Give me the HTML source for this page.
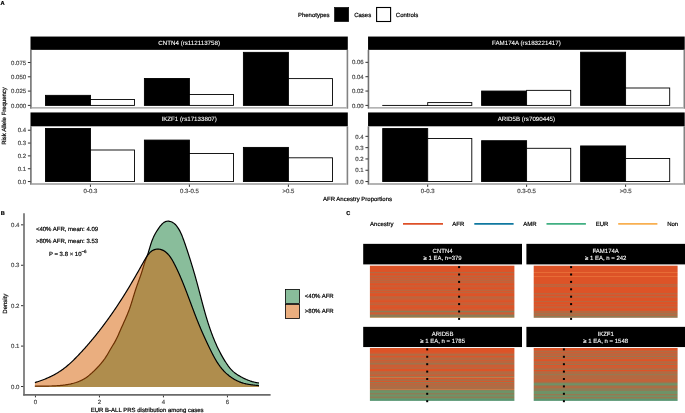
<!DOCTYPE html>
<html><head><meta charset="utf-8"><style>
html,body{margin:0;padding:0;background:#fff;}
svg{display:block;will-change:transform;}
text{font-family:"Liberation Sans",sans-serif;text-rendering:geometricPrecision;-webkit-font-smoothing:antialiased;}
</style></head><body>
<svg xmlns="http://www.w3.org/2000/svg" width="685" height="413" viewBox="0 0 685 413">
<defs><filter id="bl" x="0" y="0" width="685" height="413" filterUnits="userSpaceOnUse"></filter></defs>
<rect width="685" height="413" fill="#fff"/>
<g >
<text x="0.5" y="4.8" font-size="5.7" fill="#000" stroke="#000" stroke-width="0.2" text-anchor="start" font-weight="bold">A</text>
<text x="297.9" y="16.7" font-size="6" fill="#000" stroke="#000" stroke-width="0.2" text-anchor="start" >Phenotypes</text>
<rect x="334.5" y="7.4" width="14.2" height="14.2" fill="#000" stroke="#000" stroke-width="0.6"/>
<text x="354.2" y="16.7" font-size="6" fill="#000" stroke="#000" stroke-width="0.2" text-anchor="start" >Cases</text>
<rect x="376.6" y="7.5" width="14.0" height="14.0" fill="#fff" stroke="#000" stroke-width="1.1"/>
<text x="395.8" y="16.7" font-size="6" fill="#000" stroke="#000" stroke-width="0.2" text-anchor="start" >Controls</text>
<rect x="30.5" y="36.55" width="317.30" height="13.30" fill="#000"/>
<text x="189.14999999999998" y="45.1" font-size="6.2" fill="#fff" stroke="#fff" stroke-width="0.08" text-anchor="middle" >CNTN4 (rs112113758)</text>
<rect x="45.45" y="95.35" width="45.00" height="10.05" fill="#000" stroke="#000" stroke-width="0.9"/>
<rect x="90.45" y="99.5" width="44.10" height="5.90" fill="#fff" stroke="#000" stroke-width="0.9"/>
<rect x="144.40" y="78.45" width="45.00" height="26.95" fill="#000" stroke="#000" stroke-width="0.9"/>
<rect x="189.40" y="94.5" width="44.10" height="10.90" fill="#fff" stroke="#000" stroke-width="0.9"/>
<rect x="243.40" y="52.35" width="45.00" height="53.05" fill="#000" stroke="#000" stroke-width="0.9"/>
<rect x="288.40" y="78.6" width="44.10" height="26.80" fill="#fff" stroke="#000" stroke-width="0.9"/>
<line x1="30.9" x2="30.9" y1="49.85" y2="108.7" stroke="#727272" stroke-width="1.6"/>
<line x1="347.4" x2="347.4" y1="49.85" y2="108.7" stroke="#828282" stroke-width="1.6"/>
<line x1="31.7" x2="346.59999999999997" y1="107.9" y2="107.9" stroke="#9a9a9a" stroke-width="1.4"/>
<line x1="27.9" x2="30.599999999999998" y1="105.40" y2="105.40" stroke="#333" stroke-width="1"/>
<text x="26.099999999999998" y="107.55000000000001" font-size="6" fill="#4d4d4d" stroke="#4d4d4d" stroke-width="0.2" text-anchor="end" >0.000</text>
<line x1="27.9" x2="30.599999999999998" y1="91.10" y2="91.10" stroke="#333" stroke-width="1"/>
<text x="26.099999999999998" y="93.25000000000001" font-size="6" fill="#4d4d4d" stroke="#4d4d4d" stroke-width="0.2" text-anchor="end" >0.025</text>
<line x1="27.9" x2="30.599999999999998" y1="76.80" y2="76.80" stroke="#333" stroke-width="1"/>
<text x="26.099999999999998" y="78.95000000000002" font-size="6" fill="#4d4d4d" stroke="#4d4d4d" stroke-width="0.2" text-anchor="end" >0.050</text>
<line x1="27.9" x2="30.599999999999998" y1="62.50" y2="62.50" stroke="#333" stroke-width="1"/>
<text x="26.099999999999998" y="64.65" font-size="6" fill="#4d4d4d" stroke="#4d4d4d" stroke-width="0.2" text-anchor="end" >0.075</text>
<rect x="368.05" y="36.55" width="316.65" height="13.30" fill="#000"/>
<text x="526.375" y="45.1" font-size="6.2" fill="#fff" stroke="#fff" stroke-width="0.08" text-anchor="middle" >FAM174A (rs183221417)</text>
<rect x="382.70" y="105.4" width="45.00" height="0.01" fill="#000" stroke="#000" stroke-width="0.9"/>
<rect x="427.70" y="102.6" width="44.10" height="2.80" fill="#fff" stroke="#000" stroke-width="0.9"/>
<rect x="481.60" y="91.05" width="45.00" height="14.35" fill="#000" stroke="#000" stroke-width="0.9"/>
<rect x="526.60" y="90.36" width="44.10" height="15.04" fill="#fff" stroke="#000" stroke-width="0.9"/>
<rect x="580.60" y="52.2" width="45.00" height="53.20" fill="#000" stroke="#000" stroke-width="0.9"/>
<rect x="625.60" y="88.0" width="44.10" height="17.40" fill="#fff" stroke="#000" stroke-width="0.9"/>
<line x1="368.45" x2="368.45" y1="49.85" y2="108.7" stroke="#727272" stroke-width="1.6"/>
<line x1="684.3" x2="684.3" y1="49.85" y2="108.7" stroke="#828282" stroke-width="1.6"/>
<line x1="369.25" x2="683.5" y1="107.9" y2="107.9" stroke="#9a9a9a" stroke-width="1.4"/>
<line x1="365.45" x2="368.15" y1="105.40" y2="105.40" stroke="#333" stroke-width="1"/>
<text x="363.65" y="107.55000000000001" font-size="6" fill="#4d4d4d" stroke="#4d4d4d" stroke-width="0.2" text-anchor="end" >0.00</text>
<line x1="365.45" x2="368.15" y1="91.05" y2="91.05" stroke="#333" stroke-width="1"/>
<text x="363.65" y="93.19600000000001" font-size="6" fill="#4d4d4d" stroke="#4d4d4d" stroke-width="0.2" text-anchor="end" >0.02</text>
<line x1="365.45" x2="368.15" y1="76.69" y2="76.69" stroke="#333" stroke-width="1"/>
<text x="363.65" y="78.84200000000001" font-size="6" fill="#4d4d4d" stroke="#4d4d4d" stroke-width="0.2" text-anchor="end" >0.04</text>
<line x1="365.45" x2="368.15" y1="62.34" y2="62.34" stroke="#333" stroke-width="1"/>
<text x="363.65" y="64.48800000000001" font-size="6" fill="#4d4d4d" stroke="#4d4d4d" stroke-width="0.2" text-anchor="end" >0.06</text>
<rect x="30.5" y="112.45" width="317.30" height="13.85" fill="#000"/>
<text x="189.14999999999998" y="121.275" font-size="6.2" fill="#fff" stroke="#fff" stroke-width="0.08" text-anchor="middle" >IKZF1 (rs17133807)</text>
<rect x="45.45" y="128.45" width="45.00" height="53.10" fill="#000" stroke="#000" stroke-width="0.9"/>
<rect x="90.45" y="150.0" width="44.10" height="31.55" fill="#fff" stroke="#000" stroke-width="0.9"/>
<rect x="144.40" y="140.08" width="45.00" height="41.47" fill="#000" stroke="#000" stroke-width="0.9"/>
<rect x="189.40" y="153.5" width="44.10" height="28.05" fill="#fff" stroke="#000" stroke-width="0.9"/>
<rect x="243.40" y="147.41" width="45.00" height="34.14" fill="#000" stroke="#000" stroke-width="0.9"/>
<rect x="288.40" y="157.8" width="44.10" height="23.75" fill="#fff" stroke="#000" stroke-width="0.9"/>
<line x1="30.9" x2="30.9" y1="126.3" y2="184.75" stroke="#727272" stroke-width="1.6"/>
<line x1="347.4" x2="347.4" y1="126.3" y2="184.75" stroke="#828282" stroke-width="1.6"/>
<line x1="31.7" x2="346.59999999999997" y1="183.95" y2="183.95" stroke="#9a9a9a" stroke-width="1.4"/>
<line x1="27.9" x2="30.599999999999998" y1="181.55" y2="181.55" stroke="#333" stroke-width="1"/>
<text x="26.099999999999998" y="183.70000000000002" font-size="6" fill="#4d4d4d" stroke="#4d4d4d" stroke-width="0.2" text-anchor="end" >0.0</text>
<line x1="27.9" x2="30.599999999999998" y1="168.72" y2="168.72" stroke="#333" stroke-width="1"/>
<text x="26.099999999999998" y="170.87" font-size="6" fill="#4d4d4d" stroke="#4d4d4d" stroke-width="0.2" text-anchor="end" >0.1</text>
<line x1="27.9" x2="30.599999999999998" y1="155.89" y2="155.89" stroke="#333" stroke-width="1"/>
<text x="26.099999999999998" y="158.04000000000002" font-size="6" fill="#4d4d4d" stroke="#4d4d4d" stroke-width="0.2" text-anchor="end" >0.2</text>
<line x1="27.9" x2="30.599999999999998" y1="143.06" y2="143.06" stroke="#333" stroke-width="1"/>
<text x="26.099999999999998" y="145.21" font-size="6" fill="#4d4d4d" stroke="#4d4d4d" stroke-width="0.2" text-anchor="end" >0.3</text>
<line x1="27.9" x2="30.599999999999998" y1="130.23" y2="130.23" stroke="#333" stroke-width="1"/>
<text x="26.099999999999998" y="132.38000000000002" font-size="6" fill="#4d4d4d" stroke="#4d4d4d" stroke-width="0.2" text-anchor="end" >0.4</text>
<line x1="90.45" x2="90.45" y1="184.54999999999998" y2="186.85" stroke="#333" stroke-width="1"/>
<text x="90.45" y="193.2" font-size="6" fill="#4d4d4d" stroke="#4d4d4d" stroke-width="0.2" text-anchor="middle" >0-0.3</text>
<line x1="189.40" x2="189.40" y1="184.54999999999998" y2="186.85" stroke="#333" stroke-width="1"/>
<text x="189.4" y="193.2" font-size="6" fill="#4d4d4d" stroke="#4d4d4d" stroke-width="0.2" text-anchor="middle" >0.3-0.5</text>
<line x1="288.40" x2="288.40" y1="184.54999999999998" y2="186.85" stroke="#333" stroke-width="1"/>
<text x="288.4" y="193.2" font-size="6" fill="#4d4d4d" stroke="#4d4d4d" stroke-width="0.2" text-anchor="middle" >&gt;0.5</text>
<rect x="368.05" y="112.45" width="316.65" height="13.85" fill="#000"/>
<text x="526.375" y="121.275" font-size="6.2" fill="#fff" stroke="#fff" stroke-width="0.08" text-anchor="middle" >ARID5B (rs7090445)</text>
<rect x="382.70" y="128.55" width="45.00" height="53.00" fill="#000" stroke="#000" stroke-width="0.9"/>
<rect x="427.70" y="138.5" width="44.10" height="43.05" fill="#fff" stroke="#000" stroke-width="0.9"/>
<rect x="481.60" y="140.71" width="45.00" height="40.84" fill="#000" stroke="#000" stroke-width="0.9"/>
<rect x="526.60" y="148.3" width="44.10" height="33.25" fill="#fff" stroke="#000" stroke-width="0.9"/>
<rect x="580.60" y="145.95" width="45.00" height="35.60" fill="#000" stroke="#000" stroke-width="0.9"/>
<rect x="625.60" y="158.5" width="44.10" height="23.05" fill="#fff" stroke="#000" stroke-width="0.9"/>
<line x1="368.45" x2="368.45" y1="126.3" y2="184.75" stroke="#727272" stroke-width="1.6"/>
<line x1="684.3" x2="684.3" y1="126.3" y2="184.75" stroke="#828282" stroke-width="1.6"/>
<line x1="369.25" x2="683.5" y1="183.95" y2="183.95" stroke="#9a9a9a" stroke-width="1.4"/>
<line x1="365.45" x2="368.15" y1="181.55" y2="181.55" stroke="#333" stroke-width="1"/>
<text x="363.65" y="183.70000000000002" font-size="6" fill="#4d4d4d" stroke="#4d4d4d" stroke-width="0.2" text-anchor="end" >0.0</text>
<line x1="365.45" x2="368.15" y1="170.25" y2="170.25" stroke="#333" stroke-width="1"/>
<text x="363.65" y="172.4" font-size="6" fill="#4d4d4d" stroke="#4d4d4d" stroke-width="0.2" text-anchor="end" >0.1</text>
<line x1="365.45" x2="368.15" y1="158.95" y2="158.95" stroke="#333" stroke-width="1"/>
<text x="363.65" y="161.10000000000002" font-size="6" fill="#4d4d4d" stroke="#4d4d4d" stroke-width="0.2" text-anchor="end" >0.2</text>
<line x1="365.45" x2="368.15" y1="147.65" y2="147.65" stroke="#333" stroke-width="1"/>
<text x="363.65" y="149.8" font-size="6" fill="#4d4d4d" stroke="#4d4d4d" stroke-width="0.2" text-anchor="end" >0.3</text>
<line x1="365.45" x2="368.15" y1="136.35" y2="136.35" stroke="#333" stroke-width="1"/>
<text x="363.65" y="138.50000000000003" font-size="6" fill="#4d4d4d" stroke="#4d4d4d" stroke-width="0.2" text-anchor="end" >0.4</text>
<line x1="427.70" x2="427.70" y1="184.54999999999998" y2="186.85" stroke="#333" stroke-width="1"/>
<text x="427.7" y="193.2" font-size="6" fill="#4d4d4d" stroke="#4d4d4d" stroke-width="0.2" text-anchor="middle" >0-0.3</text>
<line x1="526.60" x2="526.60" y1="184.54999999999998" y2="186.85" stroke="#333" stroke-width="1"/>
<text x="526.6" y="193.2" font-size="6" fill="#4d4d4d" stroke="#4d4d4d" stroke-width="0.2" text-anchor="middle" >0.3-0.5</text>
<line x1="625.60" x2="625.60" y1="184.54999999999998" y2="186.85" stroke="#333" stroke-width="1"/>
<text x="625.6" y="193.2" font-size="6" fill="#4d4d4d" stroke="#4d4d4d" stroke-width="0.2" text-anchor="middle" >&gt;0.5</text>
<text x="357.5" y="201.4" font-size="6" fill="#000" stroke="#000" stroke-width="0.2" text-anchor="middle" >AFR Ancestry Proportions</text>
<text x="0" y="0" font-size="6" fill="#000" stroke="#000" stroke-width="0.2" text-anchor="middle" transform="translate(6.4,116.0) rotate(-90)">Risk Allele Frequency</text>
<text x="0.7" y="214.8" font-size="5.6" fill="#000" stroke="#000" stroke-width="0.2" text-anchor="start" font-weight="bold">B</text>
<path d="M34.90,386.20 L35.76,386.18 L36.62,386.17 L37.49,386.15 L38.35,386.14 L39.21,386.13 L40.07,386.12 L40.94,386.11 L41.80,386.11 L42.66,386.10 L43.52,386.09 L44.38,386.09 L45.24,386.08 L46.11,386.07 L46.97,386.06 L47.83,386.05 L48.69,386.04 L49.55,386.02 L50.40,386.00 L51.26,385.98 L52.12,385.96 L52.98,385.93 L53.84,385.90 L54.70,385.86 L55.55,385.82 L56.41,385.77 L57.27,385.72 L58.12,385.66 L58.98,385.60 L59.83,385.53 L60.69,385.45 L61.54,385.37 L62.40,385.28 L63.25,385.18 L64.11,385.07 L64.96,384.96 L65.81,384.83 L66.66,384.70 L67.52,384.55 L68.37,384.40 L69.22,384.24 L70.07,384.06 L70.92,383.88 L71.76,383.68 L72.61,383.47 L73.45,383.25 L74.28,383.02 L75.11,382.77 L75.94,382.51 L76.76,382.23 L77.57,381.94 L78.38,381.64 L79.18,381.32 L79.97,380.98 L80.76,380.63 L81.53,380.26 L82.30,379.88 L83.05,379.48 L83.80,379.06 L84.53,378.62 L85.25,378.16 L85.97,377.69 L86.67,377.20 L87.36,376.69 L88.05,376.18 L88.72,375.65 L89.39,375.11 L90.05,374.55 L90.70,373.99 L91.35,373.42 L91.99,372.84 L92.62,372.26 L93.25,371.67 L93.88,371.07 L94.50,370.47 L95.12,369.87 L95.73,369.26 L96.34,368.64 L96.94,368.02 L97.53,367.40 L98.12,366.77 L98.71,366.14 L99.28,365.50 L99.85,364.86 L100.42,364.21 L100.97,363.55 L101.52,362.89 L102.07,362.22 L102.60,361.55 L103.13,360.87 L103.64,360.19 L104.15,359.49 L104.65,358.80 L105.14,358.09 L105.63,357.38 L106.10,356.66 L106.56,355.94 L107.01,355.21 L107.45,354.47 L107.89,353.73 L108.32,352.98 L108.74,352.23 L109.16,351.47 L109.59,350.72 L110.02,349.98 L110.45,349.23 L110.90,348.49 L111.34,347.75 L111.79,347.01 L112.23,346.28 L112.68,345.54 L113.13,344.80 L113.57,344.07 L114.01,343.33 L114.45,342.59 L114.87,341.84 L115.29,341.09 L115.70,340.34 L116.10,339.58 L116.49,338.81 L116.87,338.04 L117.24,337.27 L117.60,336.49 L117.96,335.71 L118.31,334.92 L118.66,334.14 L119.00,333.35 L119.34,332.56 L119.68,331.77 L120.03,330.98 L120.37,330.19 L120.71,329.40 L121.06,328.61 L121.41,327.82 L121.77,327.04 L122.12,326.25 L122.47,325.47 L122.83,324.68 L123.18,323.90 L123.54,323.11 L123.90,322.33 L124.25,321.54 L124.60,320.76 L124.96,319.97 L125.30,319.18 L125.65,318.39 L126.00,317.61 L126.34,316.82 L126.68,316.03 L127.01,315.23 L127.34,314.44 L127.67,313.64 L127.99,312.85 L128.31,312.05 L128.62,311.25 L128.92,310.44 L129.22,309.64 L129.51,308.83 L129.80,308.02 L130.08,307.20 L130.36,306.39 L130.63,305.57 L130.90,304.75 L131.16,303.93 L131.42,303.11 L131.68,302.29 L131.94,301.47 L132.19,300.64 L132.44,299.82 L132.69,299.00 L132.94,298.17 L133.19,297.35 L133.45,296.52 L133.70,295.70 L133.95,294.87 L134.20,294.05 L134.46,293.23 L134.72,292.40 L134.98,291.58 L135.24,290.76 L135.51,289.94 L135.79,289.13 L136.06,288.31 L136.34,287.50 L136.62,286.68 L136.91,285.87 L137.20,285.06 L137.48,284.25 L137.78,283.44 L138.07,282.63 L138.36,281.82 L138.65,281.01 L138.94,280.20 L139.23,279.39 L139.52,278.58 L139.81,277.77 L140.10,276.96 L140.39,276.15 L140.67,275.33 L140.95,274.52 L141.22,273.71 L141.50,272.89 L141.76,272.07 L142.03,271.25 L142.29,270.43 L142.54,269.61 L142.79,268.79 L143.03,267.96 L143.28,267.14 L143.52,266.31 L143.77,265.49 L144.02,264.67 L144.28,263.85 L144.54,263.03 L144.81,262.21 L145.10,261.40 L145.39,260.59 L145.69,259.79 L145.99,258.99 L146.30,258.18 L146.60,257.38 L146.91,256.58 L147.20,255.77 L147.49,254.96 L147.77,254.15 L148.04,253.33 L148.31,252.51 L148.56,251.69 L148.81,250.87 L149.06,250.04 L149.31,249.22 L149.55,248.39 L149.80,247.57 L150.04,246.74 L150.29,245.92 L150.54,245.10 L150.80,244.28 L151.06,243.46 L151.33,242.65 L151.61,241.84 L151.90,241.03 L152.20,240.24 L152.52,239.44 L152.84,238.65 L153.18,237.87 L153.54,237.09 L153.90,236.32 L154.28,235.55 L154.67,234.79 L155.08,234.03 L155.49,233.28 L155.92,232.53 L156.37,231.79 L156.82,231.05 L157.29,230.31 L157.77,229.58 L158.26,228.86 L158.77,228.13 L159.29,227.41 L159.82,226.70 L160.37,225.99 L160.93,225.30 L161.51,224.63 L162.11,223.99 L162.73,223.40 L163.38,222.86 L164.05,222.38 L164.76,221.98 L165.50,221.65 L166.28,221.40 L167.08,221.25 L167.90,221.18 L168.73,221.19 L169.55,221.29 L170.37,221.46 L171.17,221.71 L171.94,222.03 L172.68,222.42 L173.39,222.87 L174.07,223.38 L174.73,223.94 L175.36,224.54 L175.97,225.19 L176.55,225.87 L177.10,226.58 L177.63,227.31 L178.14,228.06 L178.62,228.83 L179.08,229.60 L179.52,230.38 L179.93,231.15 L180.33,231.93 L180.70,232.70 L181.06,233.48 L181.41,234.26 L181.74,235.04 L182.06,235.81 L182.37,236.60 L182.67,237.38 L182.97,238.16 L183.26,238.95 L183.55,239.75 L183.84,240.54 L184.12,241.34 L184.40,242.14 L184.69,242.94 L184.97,243.75 L185.25,244.56 L185.53,245.37 L185.81,246.19 L186.09,247.00 L186.36,247.82 L186.64,248.64 L186.91,249.46 L187.19,250.29 L187.46,251.11 L187.73,251.94 L188.00,252.76 L188.27,253.59 L188.54,254.41 L188.80,255.24 L189.07,256.07 L189.33,256.89 L189.59,257.72 L189.86,258.54 L190.12,259.37 L190.38,260.19 L190.63,261.02 L190.89,261.84 L191.15,262.67 L191.40,263.49 L191.65,264.31 L191.91,265.14 L192.16,265.96 L192.41,266.78 L192.66,267.61 L192.90,268.43 L193.15,269.25 L193.39,270.08 L193.64,270.90 L193.88,271.72 L194.12,272.55 L194.36,273.37 L194.60,274.20 L194.84,275.02 L195.07,275.85 L195.31,276.67 L195.54,277.50 L195.77,278.33 L196.00,279.15 L196.23,279.98 L196.46,280.81 L196.69,281.64 L196.92,282.46 L197.14,283.29 L197.36,284.12 L197.59,284.95 L197.81,285.78 L198.03,286.62 L198.25,287.45 L198.47,288.28 L198.69,289.11 L198.91,289.94 L199.13,290.78 L199.35,291.61 L199.57,292.44 L199.79,293.27 L200.00,294.11 L200.22,294.94 L200.44,295.77 L200.66,296.61 L200.88,297.44 L201.09,298.27 L201.31,299.11 L201.53,299.94 L201.75,300.77 L201.97,301.61 L202.19,302.44 L202.42,303.27 L202.64,304.10 L202.86,304.94 L203.09,305.77 L203.31,306.60 L203.54,307.43 L203.77,308.26 L204.00,309.09 L204.23,309.92 L204.46,310.75 L204.69,311.58 L204.93,312.41 L205.16,313.24 L205.40,314.07 L205.64,314.90 L205.88,315.72 L206.12,316.55 L206.37,317.38 L206.62,318.20 L206.87,319.02 L207.12,319.85 L207.37,320.67 L207.63,321.49 L207.89,322.31 L208.15,323.13 L208.41,323.95 L208.68,324.77 L208.95,325.59 L209.22,326.41 L209.50,327.22 L209.77,328.04 L210.05,328.85 L210.34,329.66 L210.62,330.48 L210.91,331.29 L211.21,332.09 L211.50,332.90 L211.80,333.71 L212.10,334.51 L212.41,335.32 L212.72,336.12 L213.03,336.92 L213.35,337.72 L213.67,338.52 L213.99,339.32 L214.32,340.11 L214.65,340.90 L214.99,341.70 L215.33,342.49 L215.67,343.27 L216.02,344.06 L216.37,344.85 L216.72,345.63 L217.08,346.41 L217.45,347.19 L217.82,347.97 L218.19,348.75 L218.57,349.52 L218.95,350.29 L219.34,351.06 L219.73,351.83 L220.12,352.59 L220.52,353.36 L220.93,354.12 L221.34,354.88 L221.76,355.63 L222.18,356.38 L222.61,357.13 L223.04,357.88 L223.48,358.62 L223.92,359.36 L224.37,360.10 L224.83,360.83 L225.29,361.56 L225.76,362.28 L226.23,363.00 L226.71,363.72 L227.20,364.43 L227.69,365.13 L228.19,365.84 L228.70,366.53 L229.22,367.22 L229.75,367.89 L230.30,368.55 L230.86,369.20 L231.45,369.82 L232.05,370.43 L232.67,371.02 L233.31,371.60 L233.96,372.15 L234.63,372.69 L235.32,373.21 L236.02,373.72 L236.72,374.21 L237.44,374.69 L238.17,375.16 L238.90,375.62 L239.64,376.07 L240.39,376.51 L241.14,376.93 L241.90,377.34 L242.67,377.75 L243.44,378.13 L244.22,378.51 L245.00,378.87 L245.79,379.23 L246.58,379.57 L247.38,379.89 L248.19,380.20 L249.00,380.50 L249.81,380.79 L250.63,381.06 L251.45,381.32 L252.27,381.57 L253.10,381.80 L253.94,382.02 L254.77,382.22 L255.61,382.41 L256.45,382.58 L257.30,382.74 L258.14,382.88 L258.99,383.01 L258.99,386.90 L34.90,386.90 Z" fill="#137b37" fill-opacity="0.5" stroke="none"/>
<path d="M34.90,386.20 L35.76,386.18 L36.62,386.17 L37.49,386.15 L38.35,386.14 L39.21,386.13 L40.07,386.12 L40.94,386.11 L41.80,386.11 L42.66,386.10 L43.52,386.09 L44.38,386.09 L45.24,386.08 L46.11,386.07 L46.97,386.06 L47.83,386.05 L48.69,386.04 L49.55,386.02 L50.40,386.00 L51.26,385.98 L52.12,385.96 L52.98,385.93 L53.84,385.90 L54.70,385.86 L55.55,385.82 L56.41,385.77 L57.27,385.72 L58.12,385.66 L58.98,385.60 L59.83,385.53 L60.69,385.45 L61.54,385.37 L62.40,385.28 L63.25,385.18 L64.11,385.07 L64.96,384.96 L65.81,384.83 L66.66,384.70 L67.52,384.55 L68.37,384.40 L69.22,384.24 L70.07,384.06 L70.92,383.88 L71.76,383.68 L72.61,383.47 L73.45,383.25 L74.28,383.02 L75.11,382.77 L75.94,382.51 L76.76,382.23 L77.57,381.94 L78.38,381.64 L79.18,381.32 L79.97,380.98 L80.76,380.63 L81.53,380.26 L82.30,379.88 L83.05,379.48 L83.80,379.06 L84.53,378.62 L85.25,378.16 L85.97,377.69 L86.67,377.20 L87.36,376.69 L88.05,376.18 L88.72,375.65 L89.39,375.11 L90.05,374.55 L90.70,373.99 L91.35,373.42 L91.99,372.84 L92.62,372.26 L93.25,371.67 L93.88,371.07 L94.50,370.47 L95.12,369.87 L95.73,369.26 L96.34,368.64 L96.94,368.02 L97.53,367.40 L98.12,366.77 L98.71,366.14 L99.28,365.50 L99.85,364.86 L100.42,364.21 L100.97,363.55 L101.52,362.89 L102.07,362.22 L102.60,361.55 L103.13,360.87 L103.64,360.19 L104.15,359.49 L104.65,358.80 L105.14,358.09 L105.63,357.38 L106.10,356.66 L106.56,355.94 L107.01,355.21 L107.45,354.47 L107.89,353.73 L108.32,352.98 L108.74,352.23 L109.16,351.47 L109.59,350.72 L110.02,349.98 L110.45,349.23 L110.90,348.49 L111.34,347.75 L111.79,347.01 L112.23,346.28 L112.68,345.54 L113.13,344.80 L113.57,344.07 L114.01,343.33 L114.45,342.59 L114.87,341.84 L115.29,341.09 L115.70,340.34 L116.10,339.58 L116.49,338.81 L116.87,338.04 L117.24,337.27 L117.60,336.49 L117.96,335.71 L118.31,334.92 L118.66,334.14 L119.00,333.35 L119.34,332.56 L119.68,331.77 L120.03,330.98 L120.37,330.19 L120.71,329.40 L121.06,328.61 L121.41,327.82 L121.77,327.04 L122.12,326.25 L122.47,325.47 L122.83,324.68 L123.18,323.90 L123.54,323.11 L123.90,322.33 L124.25,321.54 L124.60,320.76 L124.96,319.97 L125.30,319.18 L125.65,318.39 L126.00,317.61 L126.34,316.82 L126.68,316.03 L127.01,315.23 L127.34,314.44 L127.67,313.64 L127.99,312.85 L128.31,312.05 L128.62,311.25 L128.92,310.44 L129.22,309.64 L129.51,308.83 L129.80,308.02 L130.08,307.20 L130.36,306.39 L130.63,305.57 L130.90,304.75 L131.16,303.93 L131.42,303.11 L131.68,302.29 L131.94,301.47 L132.19,300.64 L132.44,299.82 L132.69,299.00 L132.94,298.17 L133.19,297.35 L133.45,296.52 L133.70,295.70 L133.95,294.87 L134.20,294.05 L134.46,293.23 L134.72,292.40 L134.98,291.58 L135.24,290.76 L135.51,289.94 L135.79,289.13 L136.06,288.31 L136.34,287.50 L136.62,286.68 L136.91,285.87 L137.20,285.06 L137.48,284.25 L137.78,283.44 L138.07,282.63 L138.36,281.82 L138.65,281.01 L138.94,280.20 L139.23,279.39 L139.52,278.58 L139.81,277.77 L140.10,276.96 L140.39,276.15 L140.67,275.33 L140.95,274.52 L141.22,273.71 L141.50,272.89 L141.76,272.07 L142.03,271.25 L142.29,270.43 L142.54,269.61 L142.79,268.79 L143.03,267.96 L143.28,267.14 L143.52,266.31 L143.77,265.49 L144.02,264.67 L144.28,263.85 L144.54,263.03 L144.81,262.21 L145.10,261.40 L145.39,260.59 L145.69,259.79 L145.99,258.99 L146.30,258.18 L146.60,257.38 L146.91,256.58 L147.20,255.77 L147.49,254.96 L147.77,254.15 L148.04,253.33 L148.31,252.51 L148.56,251.69 L148.81,250.87 L149.06,250.04 L149.31,249.22 L149.55,248.39 L149.80,247.57 L150.04,246.74 L150.29,245.92 L150.54,245.10 L150.80,244.28 L151.06,243.46 L151.33,242.65 L151.61,241.84 L151.90,241.03 L152.20,240.24 L152.52,239.44 L152.84,238.65 L153.18,237.87 L153.54,237.09 L153.90,236.32 L154.28,235.55 L154.67,234.79 L155.08,234.03 L155.49,233.28 L155.92,232.53 L156.37,231.79 L156.82,231.05 L157.29,230.31 L157.77,229.58 L158.26,228.86 L158.77,228.13 L159.29,227.41 L159.82,226.70 L160.37,225.99 L160.93,225.30 L161.51,224.63 L162.11,223.99 L162.73,223.40 L163.38,222.86 L164.05,222.38 L164.76,221.98 L165.50,221.65 L166.28,221.40 L167.08,221.25 L167.90,221.18 L168.73,221.19 L169.55,221.29 L170.37,221.46 L171.17,221.71 L171.94,222.03 L172.68,222.42 L173.39,222.87 L174.07,223.38 L174.73,223.94 L175.36,224.54 L175.97,225.19 L176.55,225.87 L177.10,226.58 L177.63,227.31 L178.14,228.06 L178.62,228.83 L179.08,229.60 L179.52,230.38 L179.93,231.15 L180.33,231.93 L180.70,232.70 L181.06,233.48 L181.41,234.26 L181.74,235.04 L182.06,235.81 L182.37,236.60 L182.67,237.38 L182.97,238.16 L183.26,238.95 L183.55,239.75 L183.84,240.54 L184.12,241.34 L184.40,242.14 L184.69,242.94 L184.97,243.75 L185.25,244.56 L185.53,245.37 L185.81,246.19 L186.09,247.00 L186.36,247.82 L186.64,248.64 L186.91,249.46 L187.19,250.29 L187.46,251.11 L187.73,251.94 L188.00,252.76 L188.27,253.59 L188.54,254.41 L188.80,255.24 L189.07,256.07 L189.33,256.89 L189.59,257.72 L189.86,258.54 L190.12,259.37 L190.38,260.19 L190.63,261.02 L190.89,261.84 L191.15,262.67 L191.40,263.49 L191.65,264.31 L191.91,265.14 L192.16,265.96 L192.41,266.78 L192.66,267.61 L192.90,268.43 L193.15,269.25 L193.39,270.08 L193.64,270.90 L193.88,271.72 L194.12,272.55 L194.36,273.37 L194.60,274.20 L194.84,275.02 L195.07,275.85 L195.31,276.67 L195.54,277.50 L195.77,278.33 L196.00,279.15 L196.23,279.98 L196.46,280.81 L196.69,281.64 L196.92,282.46 L197.14,283.29 L197.36,284.12 L197.59,284.95 L197.81,285.78 L198.03,286.62 L198.25,287.45 L198.47,288.28 L198.69,289.11 L198.91,289.94 L199.13,290.78 L199.35,291.61 L199.57,292.44 L199.79,293.27 L200.00,294.11 L200.22,294.94 L200.44,295.77 L200.66,296.61 L200.88,297.44 L201.09,298.27 L201.31,299.11 L201.53,299.94 L201.75,300.77 L201.97,301.61 L202.19,302.44 L202.42,303.27 L202.64,304.10 L202.86,304.94 L203.09,305.77 L203.31,306.60 L203.54,307.43 L203.77,308.26 L204.00,309.09 L204.23,309.92 L204.46,310.75 L204.69,311.58 L204.93,312.41 L205.16,313.24 L205.40,314.07 L205.64,314.90 L205.88,315.72 L206.12,316.55 L206.37,317.38 L206.62,318.20 L206.87,319.02 L207.12,319.85 L207.37,320.67 L207.63,321.49 L207.89,322.31 L208.15,323.13 L208.41,323.95 L208.68,324.77 L208.95,325.59 L209.22,326.41 L209.50,327.22 L209.77,328.04 L210.05,328.85 L210.34,329.66 L210.62,330.48 L210.91,331.29 L211.21,332.09 L211.50,332.90 L211.80,333.71 L212.10,334.51 L212.41,335.32 L212.72,336.12 L213.03,336.92 L213.35,337.72 L213.67,338.52 L213.99,339.32 L214.32,340.11 L214.65,340.90 L214.99,341.70 L215.33,342.49 L215.67,343.27 L216.02,344.06 L216.37,344.85 L216.72,345.63 L217.08,346.41 L217.45,347.19 L217.82,347.97 L218.19,348.75 L218.57,349.52 L218.95,350.29 L219.34,351.06 L219.73,351.83 L220.12,352.59 L220.52,353.36 L220.93,354.12 L221.34,354.88 L221.76,355.63 L222.18,356.38 L222.61,357.13 L223.04,357.88 L223.48,358.62 L223.92,359.36 L224.37,360.10 L224.83,360.83 L225.29,361.56 L225.76,362.28 L226.23,363.00 L226.71,363.72 L227.20,364.43 L227.69,365.13 L228.19,365.84 L228.70,366.53 L229.22,367.22 L229.75,367.89 L230.30,368.55 L230.86,369.20 L231.45,369.82 L232.05,370.43 L232.67,371.02 L233.31,371.60 L233.96,372.15 L234.63,372.69 L235.32,373.21 L236.02,373.72 L236.72,374.21 L237.44,374.69 L238.17,375.16 L238.90,375.62 L239.64,376.07 L240.39,376.51 L241.14,376.93 L241.90,377.34 L242.67,377.75 L243.44,378.13 L244.22,378.51 L245.00,378.87 L245.79,379.23 L246.58,379.57 L247.38,379.89 L248.19,380.20 L249.00,380.50 L249.81,380.79 L250.63,381.06 L251.45,381.32 L252.27,381.57 L253.10,381.80 L253.94,382.02 L254.77,382.22 L255.61,382.41 L256.45,382.58 L257.30,382.74 L258.14,382.88 L258.99,383.01" fill="none" stroke="#000" stroke-width="1.2"/>
<path d="M34.91,382.59 L35.61,382.38 L36.31,382.16 L37.01,381.94 L37.70,381.72 L38.40,381.49 L39.10,381.25 L39.79,381.02 L40.49,380.77 L41.18,380.52 L41.87,380.27 L42.56,380.01 L43.25,379.75 L43.94,379.48 L44.62,379.21 L45.30,378.93 L45.98,378.65 L46.66,378.36 L47.34,378.07 L48.01,377.77 L48.69,377.46 L49.36,377.16 L50.02,376.84 L50.69,376.52 L51.35,376.20 L52.01,375.87 L52.67,375.53 L53.32,375.19 L53.97,374.85 L54.62,374.49 L55.26,374.14 L55.90,373.77 L56.54,373.41 L57.17,373.03 L57.80,372.65 L58.43,372.27 L59.05,371.87 L59.67,371.48 L60.28,371.07 L60.89,370.66 L61.50,370.25 L62.10,369.83 L62.70,369.40 L63.29,368.97 L63.88,368.53 L64.47,368.08 L65.05,367.63 L65.62,367.18 L66.19,366.72 L66.76,366.25 L67.32,365.78 L67.88,365.30 L68.44,364.82 L68.99,364.34 L69.54,363.85 L70.09,363.36 L70.63,362.86 L71.17,362.36 L71.71,361.85 L72.25,361.35 L72.78,360.84 L73.31,360.32 L73.83,359.81 L74.36,359.29 L74.88,358.77 L75.40,358.24 L75.92,357.72 L76.43,357.19 L76.95,356.66 L77.46,356.13 L77.97,355.60 L78.48,355.07 L78.99,354.53 L79.49,354.00 L80.00,353.46 L80.50,352.92 L81.00,352.38 L81.50,351.84 L82.00,351.30 L82.50,350.76 L82.99,350.21 L83.49,349.67 L83.98,349.12 L84.47,348.57 L84.96,348.03 L85.45,347.48 L85.94,346.92 L86.43,346.37 L86.91,345.82 L87.39,345.27 L87.88,344.71 L88.36,344.15 L88.84,343.60 L89.32,343.04 L89.79,342.48 L90.27,341.92 L90.74,341.36 L91.22,340.80 L91.69,340.23 L92.16,339.67 L92.63,339.10 L93.10,338.53 L93.57,337.97 L94.03,337.40 L94.50,336.83 L94.96,336.26 L95.42,335.68 L95.89,335.11 L96.35,334.54 L96.81,333.96 L97.26,333.39 L97.72,332.81 L98.18,332.23 L98.63,331.65 L99.09,331.08 L99.54,330.49 L99.99,329.91 L100.44,329.33 L100.89,328.75 L101.34,328.16 L101.78,327.58 L102.23,326.99 L102.67,326.41 L103.12,325.82 L103.56,325.23 L104.00,324.64 L104.44,324.05 L104.88,323.46 L105.32,322.87 L105.76,322.27 L106.19,321.68 L106.63,321.09 L107.06,320.49 L107.49,319.89 L107.93,319.30 L108.36,318.70 L108.78,318.10 L109.21,317.50 L109.64,316.90 L110.07,316.30 L110.49,315.70 L110.92,315.10 L111.34,314.50 L111.76,313.89 L112.18,313.29 L112.60,312.68 L113.02,312.08 L113.44,311.47 L113.85,310.86 L114.27,310.25 L114.68,309.65 L115.10,309.04 L115.51,308.43 L115.92,307.82 L116.33,307.21 L116.74,306.59 L117.15,305.98 L117.56,305.37 L117.96,304.75 L118.37,304.14 L118.77,303.52 L119.18,302.91 L119.58,302.29 L119.98,301.68 L120.38,301.06 L120.78,300.44 L121.18,299.82 L121.57,299.20 L121.97,298.58 L122.37,297.96 L122.76,297.34 L123.15,296.72 L123.55,296.10 L123.94,295.48 L124.33,294.85 L124.72,294.23 L125.11,293.61 L125.49,292.98 L125.88,292.36 L126.26,291.73 L126.65,291.11 L127.03,290.48 L127.41,289.85 L127.80,289.23 L128.18,288.60 L128.56,287.97 L128.94,287.34 L129.31,286.71 L129.69,286.08 L130.07,285.45 L130.44,284.82 L130.82,284.19 L131.19,283.56 L131.57,282.93 L131.94,282.30 L132.31,281.66 L132.68,281.03 L133.05,280.40 L133.42,279.76 L133.79,279.13 L134.16,278.49 L134.53,277.86 L134.90,277.22 L135.27,276.58 L135.63,275.94 L136.00,275.31 L136.37,274.67 L136.73,274.03 L137.10,273.39 L137.46,272.75 L137.83,272.11 L138.19,271.47 L138.56,270.83 L138.92,270.18 L139.28,269.54 L139.65,268.90 L140.01,268.25 L140.38,267.61 L140.74,266.96 L141.10,266.32 L141.47,265.67 L141.83,265.02 L142.19,264.38 L142.56,263.73 L142.92,263.08 L143.28,262.43 L143.64,261.78 L144.01,261.13 L144.38,260.48 L144.75,259.84 L145.12,259.19 L145.50,258.56 L145.89,257.92 L146.28,257.30 L146.69,256.68 L147.10,256.07 L147.52,255.48 L147.96,254.89 L148.41,254.31 L148.87,253.75 L149.35,253.20 L149.85,252.67 L150.36,252.15 L150.90,251.67 L151.46,251.21 L152.04,250.80 L152.66,250.42 L153.30,250.10 L153.96,249.82 L154.65,249.59 L155.35,249.40 L156.07,249.27 L156.79,249.18 L157.53,249.13 L158.26,249.13 L159.00,249.18 L159.73,249.27 L160.45,249.41 L161.16,249.59 L161.85,249.82 L162.53,250.09 L163.19,250.40 L163.83,250.75 L164.46,251.13 L165.07,251.54 L165.66,251.99 L166.23,252.46 L166.79,252.96 L167.33,253.48 L167.86,254.02 L168.36,254.58 L168.86,255.15 L169.33,255.74 L169.79,256.33 L170.23,256.94 L170.66,257.55 L171.07,258.16 L171.47,258.79 L171.86,259.41 L172.24,260.05 L172.61,260.68 L172.97,261.32 L173.32,261.97 L173.67,262.62 L174.01,263.27 L174.34,263.92 L174.68,264.57 L175.01,265.22 L175.34,265.88 L175.66,266.54 L175.99,267.19 L176.31,267.85 L176.63,268.51 L176.94,269.18 L177.26,269.84 L177.57,270.50 L177.88,271.17 L178.19,271.84 L178.49,272.50 L178.80,273.17 L179.10,273.84 L179.40,274.51 L179.69,275.18 L179.99,275.86 L180.28,276.53 L180.57,277.20 L180.86,277.88 L181.15,278.55 L181.44,279.23 L181.72,279.91 L182.00,280.59 L182.29,281.27 L182.57,281.95 L182.84,282.63 L183.12,283.31 L183.40,283.99 L183.67,284.67 L183.94,285.36 L184.22,286.04 L184.49,286.73 L184.76,287.41 L185.03,288.10 L185.29,288.78 L185.56,289.47 L185.83,290.16 L186.09,290.85 L186.35,291.53 L186.62,292.22 L186.88,292.91 L187.14,293.60 L187.40,294.29 L187.66,294.98 L187.92,295.67 L188.18,296.36 L188.44,297.05 L188.70,297.74 L188.96,298.43 L189.22,299.12 L189.48,299.81 L189.73,300.50 L189.99,301.19 L190.25,301.88 L190.51,302.57 L190.76,303.27 L191.02,303.96 L191.28,304.65 L191.54,305.34 L191.79,306.03 L192.05,306.72 L192.31,307.41 L192.57,308.10 L192.83,308.79 L193.09,309.48 L193.34,310.17 L193.60,310.86 L193.87,311.55 L194.13,312.24 L194.39,312.92 L194.65,313.61 L194.91,314.30 L195.18,314.99 L195.44,315.67 L195.71,316.36 L195.98,317.05 L196.24,317.73 L196.51,318.42 L196.78,319.10 L197.05,319.78 L197.33,320.47 L197.60,321.15 L197.87,321.83 L198.15,322.51 L198.43,323.19 L198.70,323.87 L198.98,324.55 L199.26,325.23 L199.55,325.91 L199.83,326.58 L200.11,327.26 L200.40,327.94 L200.68,328.61 L200.97,329.29 L201.26,329.96 L201.55,330.64 L201.84,331.31 L202.14,331.98 L202.43,332.66 L202.72,333.33 L203.02,334.00 L203.32,334.67 L203.62,335.34 L203.92,336.01 L204.22,336.68 L204.52,337.35 L204.82,338.02 L205.13,338.69 L205.44,339.36 L205.74,340.03 L206.05,340.70 L206.36,341.36 L206.67,342.03 L206.99,342.70 L207.30,343.36 L207.62,344.03 L207.93,344.70 L208.25,345.36 L208.57,346.03 L208.89,346.69 L209.21,347.36 L209.53,348.02 L209.86,348.68 L210.18,349.35 L210.51,350.01 L210.84,350.67 L211.17,351.34 L211.50,352.00 L211.83,352.66 L212.17,353.32 L212.50,353.98 L212.84,354.63 L213.19,355.29 L213.53,355.94 L213.88,356.59 L214.24,357.24 L214.59,357.89 L214.96,358.53 L215.32,359.17 L215.69,359.81 L216.07,360.45 L216.45,361.08 L216.83,361.70 L217.22,362.32 L217.62,362.94 L218.02,363.56 L218.43,364.17 L218.85,364.77 L219.27,365.37 L219.70,365.96 L220.13,366.55 L220.58,367.13 L221.03,367.71 L221.48,368.28 L221.95,368.85 L222.42,369.40 L222.91,369.96 L223.40,370.50 L223.90,371.04 L224.41,371.57 L224.93,372.09 L225.45,372.60 L225.98,373.11 L226.53,373.61 L227.08,374.10 L227.63,374.58 L228.20,375.05 L228.77,375.51 L229.35,375.97 L229.94,376.41 L230.53,376.85 L231.13,377.28 L231.74,377.69 L232.35,378.10 L232.98,378.50 L233.60,378.88 L234.24,379.26 L234.88,379.62 L235.52,379.97 L236.18,380.31 L236.83,380.64 L237.50,380.96 L238.17,381.27 L238.84,381.57 L239.52,381.85 L240.21,382.12 L240.90,382.38 L241.59,382.62 L242.29,382.85 L243.00,383.07 L243.71,383.28 L244.42,383.47 L245.14,383.65 L245.86,383.82 L246.58,383.98 L247.31,384.12 L248.04,384.26 L248.77,384.39 L249.50,384.51 L250.24,384.62 L250.97,384.73 L251.71,384.83 L252.44,384.92 L253.18,385.01 L253.91,385.09 L254.64,385.17 L255.37,385.25 L256.10,385.32 L256.83,385.39 L257.56,385.47 L258.28,385.54 L259.00,385.61 L259.00,386.90 L34.91,386.90 Z" fill="#d55d00" fill-opacity="0.5" stroke="none"/>
<path d="M34.91,382.59 L35.61,382.38 L36.31,382.16 L37.01,381.94 L37.70,381.72 L38.40,381.49 L39.10,381.25 L39.79,381.02 L40.49,380.77 L41.18,380.52 L41.87,380.27 L42.56,380.01 L43.25,379.75 L43.94,379.48 L44.62,379.21 L45.30,378.93 L45.98,378.65 L46.66,378.36 L47.34,378.07 L48.01,377.77 L48.69,377.46 L49.36,377.16 L50.02,376.84 L50.69,376.52 L51.35,376.20 L52.01,375.87 L52.67,375.53 L53.32,375.19 L53.97,374.85 L54.62,374.49 L55.26,374.14 L55.90,373.77 L56.54,373.41 L57.17,373.03 L57.80,372.65 L58.43,372.27 L59.05,371.87 L59.67,371.48 L60.28,371.07 L60.89,370.66 L61.50,370.25 L62.10,369.83 L62.70,369.40 L63.29,368.97 L63.88,368.53 L64.47,368.08 L65.05,367.63 L65.62,367.18 L66.19,366.72 L66.76,366.25 L67.32,365.78 L67.88,365.30 L68.44,364.82 L68.99,364.34 L69.54,363.85 L70.09,363.36 L70.63,362.86 L71.17,362.36 L71.71,361.85 L72.25,361.35 L72.78,360.84 L73.31,360.32 L73.83,359.81 L74.36,359.29 L74.88,358.77 L75.40,358.24 L75.92,357.72 L76.43,357.19 L76.95,356.66 L77.46,356.13 L77.97,355.60 L78.48,355.07 L78.99,354.53 L79.49,354.00 L80.00,353.46 L80.50,352.92 L81.00,352.38 L81.50,351.84 L82.00,351.30 L82.50,350.76 L82.99,350.21 L83.49,349.67 L83.98,349.12 L84.47,348.57 L84.96,348.03 L85.45,347.48 L85.94,346.92 L86.43,346.37 L86.91,345.82 L87.39,345.27 L87.88,344.71 L88.36,344.15 L88.84,343.60 L89.32,343.04 L89.79,342.48 L90.27,341.92 L90.74,341.36 L91.22,340.80 L91.69,340.23 L92.16,339.67 L92.63,339.10 L93.10,338.53 L93.57,337.97 L94.03,337.40 L94.50,336.83 L94.96,336.26 L95.42,335.68 L95.89,335.11 L96.35,334.54 L96.81,333.96 L97.26,333.39 L97.72,332.81 L98.18,332.23 L98.63,331.65 L99.09,331.08 L99.54,330.49 L99.99,329.91 L100.44,329.33 L100.89,328.75 L101.34,328.16 L101.78,327.58 L102.23,326.99 L102.67,326.41 L103.12,325.82 L103.56,325.23 L104.00,324.64 L104.44,324.05 L104.88,323.46 L105.32,322.87 L105.76,322.27 L106.19,321.68 L106.63,321.09 L107.06,320.49 L107.49,319.89 L107.93,319.30 L108.36,318.70 L108.78,318.10 L109.21,317.50 L109.64,316.90 L110.07,316.30 L110.49,315.70 L110.92,315.10 L111.34,314.50 L111.76,313.89 L112.18,313.29 L112.60,312.68 L113.02,312.08 L113.44,311.47 L113.85,310.86 L114.27,310.25 L114.68,309.65 L115.10,309.04 L115.51,308.43 L115.92,307.82 L116.33,307.21 L116.74,306.59 L117.15,305.98 L117.56,305.37 L117.96,304.75 L118.37,304.14 L118.77,303.52 L119.18,302.91 L119.58,302.29 L119.98,301.68 L120.38,301.06 L120.78,300.44 L121.18,299.82 L121.57,299.20 L121.97,298.58 L122.37,297.96 L122.76,297.34 L123.15,296.72 L123.55,296.10 L123.94,295.48 L124.33,294.85 L124.72,294.23 L125.11,293.61 L125.49,292.98 L125.88,292.36 L126.26,291.73 L126.65,291.11 L127.03,290.48 L127.41,289.85 L127.80,289.23 L128.18,288.60 L128.56,287.97 L128.94,287.34 L129.31,286.71 L129.69,286.08 L130.07,285.45 L130.44,284.82 L130.82,284.19 L131.19,283.56 L131.57,282.93 L131.94,282.30 L132.31,281.66 L132.68,281.03 L133.05,280.40 L133.42,279.76 L133.79,279.13 L134.16,278.49 L134.53,277.86 L134.90,277.22 L135.27,276.58 L135.63,275.94 L136.00,275.31 L136.37,274.67 L136.73,274.03 L137.10,273.39 L137.46,272.75 L137.83,272.11 L138.19,271.47 L138.56,270.83 L138.92,270.18 L139.28,269.54 L139.65,268.90 L140.01,268.25 L140.38,267.61 L140.74,266.96 L141.10,266.32 L141.47,265.67 L141.83,265.02 L142.19,264.38 L142.56,263.73 L142.92,263.08 L143.28,262.43 L143.64,261.78 L144.01,261.13 L144.38,260.48 L144.75,259.84 L145.12,259.19 L145.50,258.56 L145.89,257.92 L146.28,257.30 L146.69,256.68 L147.10,256.07 L147.52,255.48 L147.96,254.89 L148.41,254.31 L148.87,253.75 L149.35,253.20 L149.85,252.67 L150.36,252.15 L150.90,251.67 L151.46,251.21 L152.04,250.80 L152.66,250.42 L153.30,250.10 L153.96,249.82 L154.65,249.59 L155.35,249.40 L156.07,249.27 L156.79,249.18 L157.53,249.13 L158.26,249.13 L159.00,249.18 L159.73,249.27 L160.45,249.41 L161.16,249.59 L161.85,249.82 L162.53,250.09 L163.19,250.40 L163.83,250.75 L164.46,251.13 L165.07,251.54 L165.66,251.99 L166.23,252.46 L166.79,252.96 L167.33,253.48 L167.86,254.02 L168.36,254.58 L168.86,255.15 L169.33,255.74 L169.79,256.33 L170.23,256.94 L170.66,257.55 L171.07,258.16 L171.47,258.79 L171.86,259.41 L172.24,260.05 L172.61,260.68 L172.97,261.32 L173.32,261.97 L173.67,262.62 L174.01,263.27 L174.34,263.92 L174.68,264.57 L175.01,265.22 L175.34,265.88 L175.66,266.54 L175.99,267.19 L176.31,267.85 L176.63,268.51 L176.94,269.18 L177.26,269.84 L177.57,270.50 L177.88,271.17 L178.19,271.84 L178.49,272.50 L178.80,273.17 L179.10,273.84 L179.40,274.51 L179.69,275.18 L179.99,275.86 L180.28,276.53 L180.57,277.20 L180.86,277.88 L181.15,278.55 L181.44,279.23 L181.72,279.91 L182.00,280.59 L182.29,281.27 L182.57,281.95 L182.84,282.63 L183.12,283.31 L183.40,283.99 L183.67,284.67 L183.94,285.36 L184.22,286.04 L184.49,286.73 L184.76,287.41 L185.03,288.10 L185.29,288.78 L185.56,289.47 L185.83,290.16 L186.09,290.85 L186.35,291.53 L186.62,292.22 L186.88,292.91 L187.14,293.60 L187.40,294.29 L187.66,294.98 L187.92,295.67 L188.18,296.36 L188.44,297.05 L188.70,297.74 L188.96,298.43 L189.22,299.12 L189.48,299.81 L189.73,300.50 L189.99,301.19 L190.25,301.88 L190.51,302.57 L190.76,303.27 L191.02,303.96 L191.28,304.65 L191.54,305.34 L191.79,306.03 L192.05,306.72 L192.31,307.41 L192.57,308.10 L192.83,308.79 L193.09,309.48 L193.34,310.17 L193.60,310.86 L193.87,311.55 L194.13,312.24 L194.39,312.92 L194.65,313.61 L194.91,314.30 L195.18,314.99 L195.44,315.67 L195.71,316.36 L195.98,317.05 L196.24,317.73 L196.51,318.42 L196.78,319.10 L197.05,319.78 L197.33,320.47 L197.60,321.15 L197.87,321.83 L198.15,322.51 L198.43,323.19 L198.70,323.87 L198.98,324.55 L199.26,325.23 L199.55,325.91 L199.83,326.58 L200.11,327.26 L200.40,327.94 L200.68,328.61 L200.97,329.29 L201.26,329.96 L201.55,330.64 L201.84,331.31 L202.14,331.98 L202.43,332.66 L202.72,333.33 L203.02,334.00 L203.32,334.67 L203.62,335.34 L203.92,336.01 L204.22,336.68 L204.52,337.35 L204.82,338.02 L205.13,338.69 L205.44,339.36 L205.74,340.03 L206.05,340.70 L206.36,341.36 L206.67,342.03 L206.99,342.70 L207.30,343.36 L207.62,344.03 L207.93,344.70 L208.25,345.36 L208.57,346.03 L208.89,346.69 L209.21,347.36 L209.53,348.02 L209.86,348.68 L210.18,349.35 L210.51,350.01 L210.84,350.67 L211.17,351.34 L211.50,352.00 L211.83,352.66 L212.17,353.32 L212.50,353.98 L212.84,354.63 L213.19,355.29 L213.53,355.94 L213.88,356.59 L214.24,357.24 L214.59,357.89 L214.96,358.53 L215.32,359.17 L215.69,359.81 L216.07,360.45 L216.45,361.08 L216.83,361.70 L217.22,362.32 L217.62,362.94 L218.02,363.56 L218.43,364.17 L218.85,364.77 L219.27,365.37 L219.70,365.96 L220.13,366.55 L220.58,367.13 L221.03,367.71 L221.48,368.28 L221.95,368.85 L222.42,369.40 L222.91,369.96 L223.40,370.50 L223.90,371.04 L224.41,371.57 L224.93,372.09 L225.45,372.60 L225.98,373.11 L226.53,373.61 L227.08,374.10 L227.63,374.58 L228.20,375.05 L228.77,375.51 L229.35,375.97 L229.94,376.41 L230.53,376.85 L231.13,377.28 L231.74,377.69 L232.35,378.10 L232.98,378.50 L233.60,378.88 L234.24,379.26 L234.88,379.62 L235.52,379.97 L236.18,380.31 L236.83,380.64 L237.50,380.96 L238.17,381.27 L238.84,381.57 L239.52,381.85 L240.21,382.12 L240.90,382.38 L241.59,382.62 L242.29,382.85 L243.00,383.07 L243.71,383.28 L244.42,383.47 L245.14,383.65 L245.86,383.82 L246.58,383.98 L247.31,384.12 L248.04,384.26 L248.77,384.39 L249.50,384.51 L250.24,384.62 L250.97,384.73 L251.71,384.83 L252.44,384.92 L253.18,385.01 L253.91,385.09 L254.64,385.17 L255.37,385.25 L256.10,385.32 L256.83,385.39 L257.56,385.47 L258.28,385.54 L259.00,385.61" fill="none" stroke="#000" stroke-width="1.2"/>
<line x1="24.0" x2="24.0" y1="213.2" y2="395.6" stroke="#6a6a6a" stroke-width="1.6"/>
<line x1="23.2" x2="270.6" y1="394.85" y2="394.85" stroke="#6a6a6a" stroke-width="1.6"/>
<line x1="21.0" x2="23.3" y1="386.52" y2="386.52" stroke="#333" stroke-width="1"/>
<text x="19.4" y="388.66999999999996" font-size="6" fill="#4d4d4d" stroke="#4d4d4d" stroke-width="0.2" text-anchor="end" >0.0</text>
<line x1="21.0" x2="23.3" y1="346.10" y2="346.10" stroke="#333" stroke-width="1"/>
<text x="19.4" y="348.24999999999994" font-size="6" fill="#4d4d4d" stroke="#4d4d4d" stroke-width="0.2" text-anchor="end" >0.1</text>
<line x1="21.0" x2="23.3" y1="305.68" y2="305.68" stroke="#333" stroke-width="1"/>
<text x="19.4" y="307.8299999999999" font-size="6" fill="#4d4d4d" stroke="#4d4d4d" stroke-width="0.2" text-anchor="end" >0.2</text>
<line x1="21.0" x2="23.3" y1="265.26" y2="265.26" stroke="#333" stroke-width="1"/>
<text x="19.4" y="267.40999999999997" font-size="6" fill="#4d4d4d" stroke="#4d4d4d" stroke-width="0.2" text-anchor="end" >0.3</text>
<line x1="21.0" x2="23.3" y1="224.84" y2="224.84" stroke="#333" stroke-width="1"/>
<text x="19.4" y="226.98999999999998" font-size="6" fill="#4d4d4d" stroke="#4d4d4d" stroke-width="0.2" text-anchor="end" >0.4</text>
<line x1="35.45" x2="35.45" y1="395.6" y2="397.4" stroke="#333" stroke-width="1"/>
<text x="35.45" y="403.6" font-size="6" fill="#4d4d4d" stroke="#4d4d4d" stroke-width="0.2" text-anchor="middle" >0</text>
<line x1="99.45" x2="99.45" y1="395.6" y2="397.4" stroke="#333" stroke-width="1"/>
<text x="99.45" y="403.6" font-size="6" fill="#4d4d4d" stroke="#4d4d4d" stroke-width="0.2" text-anchor="middle" >2</text>
<line x1="163.45" x2="163.45" y1="395.6" y2="397.4" stroke="#333" stroke-width="1"/>
<text x="163.45" y="403.6" font-size="6" fill="#4d4d4d" stroke="#4d4d4d" stroke-width="0.2" text-anchor="middle" >4</text>
<line x1="227.45" x2="227.45" y1="395.6" y2="397.4" stroke="#333" stroke-width="1"/>
<text x="227.45" y="403.6" font-size="6" fill="#4d4d4d" stroke="#4d4d4d" stroke-width="0.2" text-anchor="middle" >6</text>
<text x="147.2" y="411.6" font-size="6" fill="#000" stroke="#000" stroke-width="0.2" text-anchor="middle" >EUR B-ALL PRS distribution among cases</text>
<text x="0" y="0" font-size="6" fill="#000" stroke="#000" stroke-width="0.2" text-anchor="middle" transform="translate(7.1,303.7) rotate(-90)">Density</text>
<text x="67" y="231" font-size="6" fill="#000" stroke="#000" stroke-width="0.2" text-anchor="middle" >&lt;40% AFR, mean: 4.09</text>
<text x="67" y="242.6" font-size="6" fill="#000" stroke="#000" stroke-width="0.2" text-anchor="middle" >&gt;80% AFR, mean: 3.53</text>
<text x="48.9" y="255.6" font-size="6" fill="#000" stroke="#000" stroke-width="0.2">P = 3.8 × 10<tspan dy="-2.3" font-size="4.5">−6</tspan></text>
<rect x="285.4" y="289.4" width="14.1" height="14.1" fill="#137b37" fill-opacity="0.5" stroke="#000" stroke-width="0.8"/>
<rect x="285.4" y="304.4" width="14.1" height="14.1" fill="#d55d00" fill-opacity="0.5" stroke="#000" stroke-width="0.8"/>
<text x="304.8" y="298.1" font-size="6" fill="#000" stroke="#000" stroke-width="0.2" text-anchor="start" >&lt;40% AFR</text>
<text x="304.8" y="313.4" font-size="6" fill="#000" stroke="#000" stroke-width="0.2" text-anchor="start" >&gt;80% AFR</text>
<text x="346.2" y="214.9" font-size="5.6" fill="#000" stroke="#000" stroke-width="0.2" text-anchor="start" font-weight="bold">C</text>
<text x="370.1" y="225.9" font-size="6" fill="#000" stroke="#000" stroke-width="0.2" text-anchor="start" >Ancestry</text>
<line x1="403" x2="443" y1="223.8" y2="223.8" stroke="#de5028" stroke-width="1.7"/>
<text x="452.3" y="225.9" font-size="6" fill="#000" stroke="#000" stroke-width="0.2" text-anchor="start" >AFR</text>
<line x1="474.3" x2="513.6" y1="223.8" y2="223.8" stroke="#0f78a0" stroke-width="1.7"/>
<text x="523.2" y="225.9" font-size="6" fill="#000" stroke="#000" stroke-width="0.2" text-anchor="start" >AMR</text>
<line x1="546.5" x2="585.9" y1="223.8" y2="223.8" stroke="#41af82" stroke-width="1.7"/>
<text x="595.7" y="225.9" font-size="6" fill="#000" stroke="#000" stroke-width="0.2" text-anchor="start" >EUR</text>
<line x1="618.2" x2="657.4" y1="223.8" y2="223.8" stroke="#f8af50" stroke-width="1.7"/>
<text x="667.2" y="225.9" font-size="6" fill="#000" stroke="#000" stroke-width="0.2" text-anchor="start" >Non</text>
<rect x="363.2" y="243.85" width="158.80" height="20.55" fill="#000"/>
<text x="442.6" y="252.54999999999998" font-size="6" fill="#fff" stroke="#fff" stroke-width="0.1" text-anchor="middle" >CNTN4</text>
<text x="442.6" y="259.85" font-size="6" fill="#fff" stroke="#fff" stroke-width="0.1" text-anchor="middle" >≥ 1 EA, n=379</text>
<linearGradient id="sg0" gradientUnits="userSpaceOnUse" x1="0" y1="265.7" x2="0" y2="317.8"><stop offset="0.0000" stop-color="rgb(221,83,39)"/><stop offset="0.0154" stop-color="rgb(221,83,39)"/><stop offset="0.0345" stop-color="rgb(221,83,39)"/><stop offset="0.0537" stop-color="rgb(221,83,39)"/><stop offset="0.0729" stop-color="rgb(221,83,39)"/><stop offset="0.0921" stop-color="rgb(221,83,39)"/><stop offset="0.1113" stop-color="rgb(221,83,39)"/><stop offset="0.1305" stop-color="rgb(180,105,65)"/><stop offset="0.1497" stop-color="rgb(216,87,44)"/><stop offset="0.1689" stop-color="rgb(221,83,39)"/><stop offset="0.1881" stop-color="rgb(205,93,52)"/><stop offset="0.2073" stop-color="rgb(188,101,61)"/><stop offset="0.2265" stop-color="rgb(216,87,44)"/><stop offset="0.2457" stop-color="rgb(195,98,58)"/><stop offset="0.2649" stop-color="rgb(205,93,52)"/><stop offset="0.2841" stop-color="rgb(188,101,61)"/><stop offset="0.3033" stop-color="rgb(205,93,52)"/><stop offset="0.3225" stop-color="rgb(188,101,61)"/><stop offset="0.3417" stop-color="rgb(216,87,44)"/><stop offset="0.3608" stop-color="rgb(221,83,39)"/><stop offset="0.3800" stop-color="rgb(205,93,52)"/><stop offset="0.3992" stop-color="rgb(205,93,52)"/><stop offset="0.4184" stop-color="rgb(216,87,44)"/><stop offset="0.4376" stop-color="rgb(221,83,39)"/><stop offset="0.4568" stop-color="rgb(205,93,52)"/><stop offset="0.4760" stop-color="rgb(188,101,61)"/><stop offset="0.4952" stop-color="rgb(216,87,44)"/><stop offset="0.5144" stop-color="rgb(188,101,61)"/><stop offset="0.5336" stop-color="rgb(216,87,44)"/><stop offset="0.5528" stop-color="rgb(221,83,39)"/><stop offset="0.5720" stop-color="rgb(221,83,39)"/><stop offset="0.5912" stop-color="rgb(195,98,58)"/><stop offset="0.6104" stop-color="rgb(188,101,61)"/><stop offset="0.6296" stop-color="rgb(195,98,58)"/><stop offset="0.6488" stop-color="rgb(205,93,52)"/><stop offset="0.6679" stop-color="rgb(216,87,44)"/><stop offset="0.6871" stop-color="rgb(221,83,39)"/><stop offset="0.7063" stop-color="rgb(205,93,52)"/><stop offset="0.7255" stop-color="rgb(205,93,52)"/><stop offset="0.7447" stop-color="rgb(188,101,61)"/><stop offset="0.7639" stop-color="rgb(216,87,44)"/><stop offset="0.7831" stop-color="rgb(216,87,44)"/><stop offset="0.8023" stop-color="rgb(221,83,39)"/><stop offset="0.8215" stop-color="rgb(216,87,44)"/><stop offset="0.8407" stop-color="rgb(205,93,52)"/><stop offset="0.8599" stop-color="rgb(195,98,58)"/><stop offset="0.8791" stop-color="rgb(140,125,86)"/><stop offset="0.8983" stop-color="rgb(188,101,61)"/><stop offset="0.9175" stop-color="rgb(205,93,52)"/><stop offset="0.9367" stop-color="rgb(175,108,68)"/><stop offset="0.9559" stop-color="rgb(140,125,86)"/><stop offset="0.9750" stop-color="rgb(140,125,86)"/><stop offset="0.9942" stop-color="rgb(185,140,82)"/><stop offset="1.0000" stop-color="rgb(185,140,82)"/></linearGradient>
<rect x="369.9" y="265.7" width="144.5" height="52.10" fill="url(#sg0)"/>
<rect x="458.1" y="266.10" width="2.0" height="2.0" fill="#000"/>
<rect x="458.1" y="273.50" width="2.0" height="2.0" fill="#000"/>
<rect x="458.1" y="280.90" width="2.0" height="2.0" fill="#000"/>
<rect x="458.1" y="288.30" width="2.0" height="2.0" fill="#000"/>
<rect x="458.1" y="295.70" width="2.0" height="2.0" fill="#000"/>
<rect x="458.1" y="303.10" width="2.0" height="2.0" fill="#000"/>
<rect x="458.1" y="310.50" width="2.0" height="2.0" fill="#000"/>
<rect x="458.1" y="317.90" width="2.0" height="2.0" fill="#000"/>
<rect x="526.4" y="243.85" width="158.60" height="20.55" fill="#000"/>
<text x="605.7" y="252.54999999999998" font-size="6" fill="#fff" stroke="#fff" stroke-width="0.1" text-anchor="middle" >FAM174A</text>
<text x="605.7" y="259.85" font-size="6" fill="#fff" stroke="#fff" stroke-width="0.1" text-anchor="middle" >≥ 1 EA, n = 242</text>
<linearGradient id="sg1" gradientUnits="userSpaceOnUse" x1="0" y1="265.7" x2="0" y2="317.8"><stop offset="0.0000" stop-color="rgb(221,83,39)"/><stop offset="0.0154" stop-color="rgb(221,83,39)"/><stop offset="0.0345" stop-color="rgb(221,83,39)"/><stop offset="0.0537" stop-color="rgb(221,83,39)"/><stop offset="0.0729" stop-color="rgb(221,83,39)"/><stop offset="0.0921" stop-color="rgb(221,83,39)"/><stop offset="0.1113" stop-color="rgb(221,83,39)"/><stop offset="0.1305" stop-color="rgb(231,108,54)"/><stop offset="0.1497" stop-color="rgb(221,83,39)"/><stop offset="0.1689" stop-color="rgb(221,83,39)"/><stop offset="0.1881" stop-color="rgb(221,83,39)"/><stop offset="0.2073" stop-color="rgb(231,108,54)"/><stop offset="0.2265" stop-color="rgb(221,83,39)"/><stop offset="0.2457" stop-color="rgb(221,83,39)"/><stop offset="0.2649" stop-color="rgb(221,83,39)"/><stop offset="0.2841" stop-color="rgb(221,83,39)"/><stop offset="0.3033" stop-color="rgb(221,83,39)"/><stop offset="0.3225" stop-color="rgb(221,83,39)"/><stop offset="0.3417" stop-color="rgb(221,83,39)"/><stop offset="0.3608" stop-color="rgb(188,101,61)"/><stop offset="0.3800" stop-color="rgb(205,93,52)"/><stop offset="0.3992" stop-color="rgb(188,101,61)"/><stop offset="0.4184" stop-color="rgb(221,83,39)"/><stop offset="0.4376" stop-color="rgb(221,83,39)"/><stop offset="0.4568" stop-color="rgb(221,83,39)"/><stop offset="0.4760" stop-color="rgb(221,83,39)"/><stop offset="0.4952" stop-color="rgb(221,83,39)"/><stop offset="0.5144" stop-color="rgb(221,83,39)"/><stop offset="0.5336" stop-color="rgb(188,101,61)"/><stop offset="0.5528" stop-color="rgb(205,93,52)"/><stop offset="0.5720" stop-color="rgb(221,83,39)"/><stop offset="0.5912" stop-color="rgb(188,101,61)"/><stop offset="0.6104" stop-color="rgb(205,93,52)"/><stop offset="0.6296" stop-color="rgb(221,83,39)"/><stop offset="0.6488" stop-color="rgb(221,83,39)"/><stop offset="0.6679" stop-color="rgb(221,83,39)"/><stop offset="0.6871" stop-color="rgb(188,101,61)"/><stop offset="0.7063" stop-color="rgb(221,83,39)"/><stop offset="0.7255" stop-color="rgb(221,83,39)"/><stop offset="0.7447" stop-color="rgb(205,93,52)"/><stop offset="0.7639" stop-color="rgb(221,83,39)"/><stop offset="0.7831" stop-color="rgb(205,93,52)"/><stop offset="0.8023" stop-color="rgb(195,98,58)"/><stop offset="0.8215" stop-color="rgb(216,87,44)"/><stop offset="0.8407" stop-color="rgb(221,83,39)"/><stop offset="0.8599" stop-color="rgb(216,87,44)"/><stop offset="0.8791" stop-color="rgb(180,105,65)"/><stop offset="0.8983" stop-color="rgb(188,101,61)"/><stop offset="0.9175" stop-color="rgb(160,115,76)"/><stop offset="0.9367" stop-color="rgb(175,108,68)"/><stop offset="0.9559" stop-color="rgb(180,105,65)"/><stop offset="0.9750" stop-color="rgb(140,125,86)"/><stop offset="0.9942" stop-color="rgb(160,115,76)"/><stop offset="1.0000" stop-color="rgb(160,115,76)"/></linearGradient>
<rect x="533.7" y="265.7" width="143.9" height="52.10" fill="url(#sg1)"/>
<rect x="570.1" y="266.10" width="2.0" height="2.0" fill="#000"/>
<rect x="570.1" y="273.50" width="2.0" height="2.0" fill="#000"/>
<rect x="570.1" y="280.90" width="2.0" height="2.0" fill="#000"/>
<rect x="570.1" y="288.30" width="2.0" height="2.0" fill="#000"/>
<rect x="570.1" y="295.70" width="2.0" height="2.0" fill="#000"/>
<rect x="570.1" y="303.10" width="2.0" height="2.0" fill="#000"/>
<rect x="570.1" y="310.50" width="2.0" height="2.0" fill="#000"/>
<rect x="570.1" y="317.90" width="2.0" height="2.0" fill="#000"/>
<rect x="363.2" y="326.85" width="158.80" height="20.20" fill="#000"/>
<text x="442.6" y="335.55" font-size="6" fill="#fff" stroke="#fff" stroke-width="0.1" text-anchor="middle" >ARID5B</text>
<text x="442.6" y="342.85" font-size="6" fill="#fff" stroke="#fff" stroke-width="0.1" text-anchor="middle" >≥ 1 EA, n = 1785</text>
<linearGradient id="sg2" gradientUnits="userSpaceOnUse" x1="0" y1="348.0" x2="0" y2="400.9"><stop offset="0.0000" stop-color="rgb(221,83,39)"/><stop offset="0.0095" stop-color="rgb(221,83,39)"/><stop offset="0.0284" stop-color="rgb(221,83,39)"/><stop offset="0.0473" stop-color="rgb(221,83,39)"/><stop offset="0.0662" stop-color="rgb(221,83,39)"/><stop offset="0.0851" stop-color="rgb(216,87,44)"/><stop offset="0.1040" stop-color="rgb(205,93,52)"/><stop offset="0.1229" stop-color="rgb(175,108,68)"/><stop offset="0.1418" stop-color="rgb(188,101,61)"/><stop offset="0.1607" stop-color="rgb(216,87,44)"/><stop offset="0.1796" stop-color="rgb(195,98,58)"/><stop offset="0.1985" stop-color="rgb(180,105,65)"/><stop offset="0.2174" stop-color="rgb(180,105,65)"/><stop offset="0.2363" stop-color="rgb(205,93,52)"/><stop offset="0.2552" stop-color="rgb(188,101,61)"/><stop offset="0.2741" stop-color="rgb(188,101,61)"/><stop offset="0.2930" stop-color="rgb(160,115,76)"/><stop offset="0.3119" stop-color="rgb(180,105,65)"/><stop offset="0.3308" stop-color="rgb(205,93,52)"/><stop offset="0.3497" stop-color="rgb(205,93,52)"/><stop offset="0.3686" stop-color="rgb(195,98,58)"/><stop offset="0.3875" stop-color="rgb(188,101,61)"/><stop offset="0.4064" stop-color="rgb(221,83,39)"/><stop offset="0.4253" stop-color="rgb(221,83,39)"/><stop offset="0.4442" stop-color="rgb(188,101,61)"/><stop offset="0.4631" stop-color="rgb(180,105,65)"/><stop offset="0.4820" stop-color="rgb(175,108,68)"/><stop offset="0.5009" stop-color="rgb(188,101,61)"/><stop offset="0.5198" stop-color="rgb(205,93,52)"/><stop offset="0.5388" stop-color="rgb(160,115,76)"/><stop offset="0.5577" stop-color="rgb(200,120,70)"/><stop offset="0.5766" stop-color="rgb(216,87,44)"/><stop offset="0.5955" stop-color="rgb(180,105,65)"/><stop offset="0.6144" stop-color="rgb(170,110,71)"/><stop offset="0.6333" stop-color="rgb(216,87,44)"/><stop offset="0.6522" stop-color="rgb(150,121,81)"/><stop offset="0.6711" stop-color="rgb(195,98,58)"/><stop offset="0.6900" stop-color="rgb(180,105,65)"/><stop offset="0.7089" stop-color="rgb(180,105,65)"/><stop offset="0.7278" stop-color="rgb(175,108,68)"/><stop offset="0.7467" stop-color="rgb(170,110,71)"/><stop offset="0.7656" stop-color="rgb(175,108,68)"/><stop offset="0.7845" stop-color="rgb(200,120,70)"/><stop offset="0.8034" stop-color="rgb(125,137,95)"/><stop offset="0.8223" stop-color="rgb(110,147,103)"/><stop offset="0.8412" stop-color="rgb(110,147,103)"/><stop offset="0.8601" stop-color="rgb(140,125,86)"/><stop offset="0.8790" stop-color="rgb(125,137,95)"/><stop offset="0.8979" stop-color="rgb(110,147,103)"/><stop offset="0.9168" stop-color="rgb(125,137,95)"/><stop offset="0.9357" stop-color="rgb(140,125,86)"/><stop offset="0.9546" stop-color="rgb(110,147,103)"/><stop offset="0.9735" stop-color="rgb(90,151,116)"/><stop offset="0.9924" stop-color="rgb(90,151,116)"/><stop offset="1.0000" stop-color="rgb(90,151,116)"/></linearGradient>
<rect x="369.9" y="348.0" width="144.5" height="52.90" fill="url(#sg2)"/>
<rect x="426.2" y="348.40" width="2.0" height="2.0" fill="#000"/>
<rect x="426.2" y="355.80" width="2.0" height="2.0" fill="#000"/>
<rect x="426.2" y="363.20" width="2.0" height="2.0" fill="#000"/>
<rect x="426.2" y="370.60" width="2.0" height="2.0" fill="#000"/>
<rect x="426.2" y="378.00" width="2.0" height="2.0" fill="#000"/>
<rect x="426.2" y="385.40" width="2.0" height="2.0" fill="#000"/>
<rect x="426.2" y="392.80" width="2.0" height="2.0" fill="#000"/>
<rect x="426.2" y="400.20" width="2.0" height="2.0" fill="#000"/>
<rect x="526.4" y="326.85" width="158.60" height="20.20" fill="#000"/>
<text x="605.7" y="335.55" font-size="6" fill="#fff" stroke="#fff" stroke-width="0.1" text-anchor="middle" >IKZF1</text>
<text x="605.7" y="342.85" font-size="6" fill="#fff" stroke="#fff" stroke-width="0.1" text-anchor="middle" >≥ 1 EA, n = 1548</text>
<linearGradient id="sg3" gradientUnits="userSpaceOnUse" x1="0" y1="348.0" x2="0" y2="400.9"><stop offset="0.0000" stop-color="rgb(221,83,39)"/><stop offset="0.0095" stop-color="rgb(221,83,39)"/><stop offset="0.0284" stop-color="rgb(221,83,39)"/><stop offset="0.0473" stop-color="rgb(205,93,52)"/><stop offset="0.0662" stop-color="rgb(175,108,68)"/><stop offset="0.0851" stop-color="rgb(205,93,52)"/><stop offset="0.1040" stop-color="rgb(188,101,61)"/><stop offset="0.1229" stop-color="rgb(180,105,65)"/><stop offset="0.1418" stop-color="rgb(195,98,58)"/><stop offset="0.1607" stop-color="rgb(160,115,76)"/><stop offset="0.1796" stop-color="rgb(205,93,52)"/><stop offset="0.1985" stop-color="rgb(175,108,68)"/><stop offset="0.2174" stop-color="rgb(216,87,44)"/><stop offset="0.2363" stop-color="rgb(221,83,39)"/><stop offset="0.2552" stop-color="rgb(188,101,61)"/><stop offset="0.2741" stop-color="rgb(180,105,65)"/><stop offset="0.2930" stop-color="rgb(205,93,52)"/><stop offset="0.3119" stop-color="rgb(160,115,76)"/><stop offset="0.3308" stop-color="rgb(216,87,44)"/><stop offset="0.3497" stop-color="rgb(205,93,52)"/><stop offset="0.3686" stop-color="rgb(205,93,52)"/><stop offset="0.3875" stop-color="rgb(188,101,61)"/><stop offset="0.4064" stop-color="rgb(170,110,71)"/><stop offset="0.4253" stop-color="rgb(221,83,39)"/><stop offset="0.4442" stop-color="rgb(188,101,61)"/><stop offset="0.4631" stop-color="rgb(175,108,68)"/><stop offset="0.4820" stop-color="rgb(180,105,65)"/><stop offset="0.5009" stop-color="rgb(150,121,81)"/><stop offset="0.5198" stop-color="rgb(175,108,68)"/><stop offset="0.5388" stop-color="rgb(180,105,65)"/><stop offset="0.5577" stop-color="rgb(180,105,65)"/><stop offset="0.5766" stop-color="rgb(175,108,68)"/><stop offset="0.5955" stop-color="rgb(195,98,58)"/><stop offset="0.6144" stop-color="rgb(195,98,58)"/><stop offset="0.6333" stop-color="rgb(188,101,61)"/><stop offset="0.6522" stop-color="rgb(160,115,76)"/><stop offset="0.6711" stop-color="rgb(125,137,95)"/><stop offset="0.6900" stop-color="rgb(110,147,103)"/><stop offset="0.7089" stop-color="rgb(140,125,86)"/><stop offset="0.7278" stop-color="rgb(170,110,71)"/><stop offset="0.7467" stop-color="rgb(175,108,68)"/><stop offset="0.7656" stop-color="rgb(150,121,81)"/><stop offset="0.7845" stop-color="rgb(140,125,86)"/><stop offset="0.8034" stop-color="rgb(140,125,86)"/><stop offset="0.8223" stop-color="rgb(110,147,103)"/><stop offset="0.8412" stop-color="rgb(110,147,103)"/><stop offset="0.8601" stop-color="rgb(110,147,103)"/><stop offset="0.8790" stop-color="rgb(150,121,81)"/><stop offset="0.8979" stop-color="rgb(125,137,95)"/><stop offset="0.9168" stop-color="rgb(110,147,103)"/><stop offset="0.9357" stop-color="rgb(150,121,81)"/><stop offset="0.9546" stop-color="rgb(125,137,95)"/><stop offset="0.9735" stop-color="rgb(90,151,116)"/><stop offset="0.9924" stop-color="rgb(90,151,116)"/><stop offset="1.0000" stop-color="rgb(90,151,116)"/></linearGradient>
<rect x="533.7" y="348.0" width="143.9" height="52.90" fill="url(#sg3)"/>
<rect x="562.9" y="348.40" width="2.0" height="2.0" fill="#000"/>
<rect x="562.9" y="355.80" width="2.0" height="2.0" fill="#000"/>
<rect x="562.9" y="363.20" width="2.0" height="2.0" fill="#000"/>
<rect x="562.9" y="370.60" width="2.0" height="2.0" fill="#000"/>
<rect x="562.9" y="378.00" width="2.0" height="2.0" fill="#000"/>
<rect x="562.9" y="385.40" width="2.0" height="2.0" fill="#000"/>
<rect x="562.9" y="392.80" width="2.0" height="2.0" fill="#000"/>
<rect x="562.9" y="400.20" width="2.0" height="2.0" fill="#000"/>
</g>
</svg>
</body></html>
